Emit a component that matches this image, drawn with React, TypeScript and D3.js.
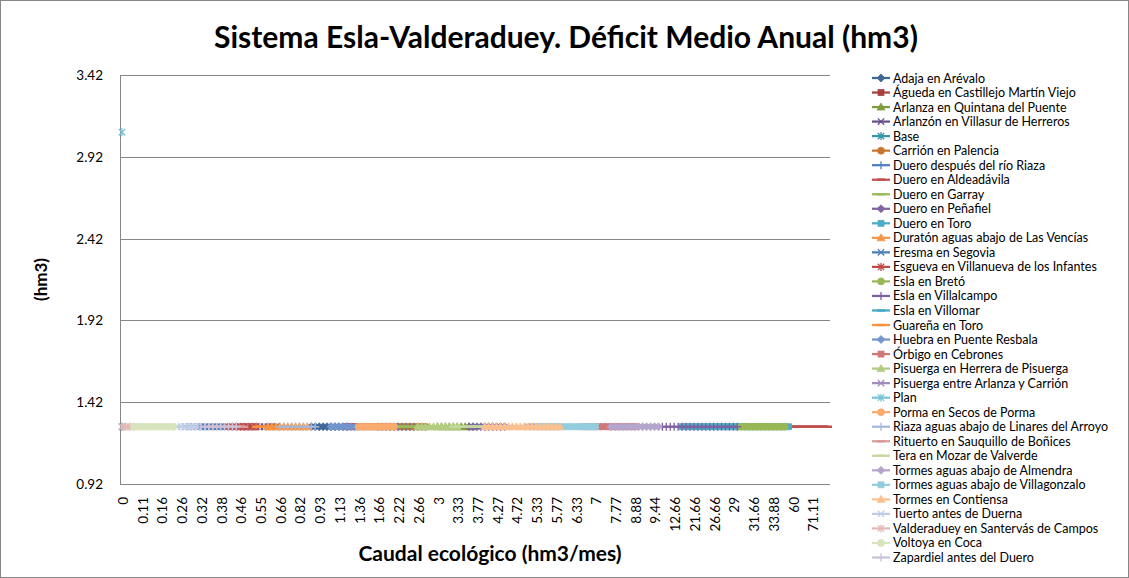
import React from 'react';
import * as d3 from 'd3';

const categories = [
  "0","0.02","0.04","0.06","0.09",
  "0.11","0.12","0.13","0.14","0.15",
  "0.16","0.18","0.2","0.22","0.24",
  "0.26","0.27","0.28","0.3","0.31",
  "0.32","0.33","0.34","0.36","0.37",
  "0.38","0.4","0.42","0.44","0.45",
  "0.46","0.48","0.5","0.52","0.53",
  "0.55","0.58","0.6","0.62","0.64",
  "0.66","0.7","0.74","0.77","0.8",
  "0.82","0.85","0.88","0.9","0.91",
  "0.93","0.96","1","1.06","1.1",
  "1.13","1.2","1.25","1.3","1.33",
  "1.36","1.4","1.46","1.55","1.6",
  "1.66","1.77","1.88","2","2.11",
  "2.22","2.33","2.44","2.5","2.55",
  "2.66","2.77","2.8","2.88","2.95",
  "3","3.1","3.15","3.2","3.25",
  "3.33","3.4","3.5","3.6","3.66",
  "3.77","3.88","4","4.1","4.2",
  "4.27","4.33","4.44","4.55","4.66",
  "4.72","4.8","5","5.1","5.2",
  "5.33","5.4","5.5","5.6","5.66",
  "5.77","5.88","6","6.1","6.22",
  "6.33","6.44","6.5","6.66","6.8",
  "7","7.1","7.33","7.5","7.66",
  "7.77","8","8.33","8.5","8.66",
  "8.88","9","9.1","9.33","9.4",
  "9.44","10","10.66","11","12",
  "12.66","13.33","14","16","18",
  "21.66","22","23","24","25",
  "26.66","27","27.5","28","28.5",
  "29","30","30.5","31","31.33",
  "31.66","32","32.5","33","33.33",
  "33.88","40","45","50","55",
  "60","62","64","66","68",
  "71.11","75","80","85","90"
];
const tickEvery = 5;
const yTicks = [0.92, 1.42, 1.92, 2.42, 2.92, 3.42];

const seriesNames = [
  "Adaja en Arévalo","Águeda en Castillejo Martín Viejo","Arlanza en Quintana del Puente",
  "Arlanzón en Villasur de Herreros","Base","Carrión en Palencia","Duero después del río Riaza",
  "Duero en Aldeadávila","Duero en Garray","Duero en Peñafiel","Duero en Toro",
  "Duratón aguas abajo de Las Vencías","Eresma en Segovia","Esgueva en Villanueva de los Infantes",
  "Esla en Bretó","Esla en Villalcampo","Esla en Villomar","Guareña en Toro","Huebra en Puente Resbala",
  "Órbigo en Cebrones","Pisuerga en Herrera de Pisuerga","Pisuerga entre Arlanza y Carrión","Plan",
  "Porma en Secos de Porma","Riaza aguas abajo de Linares del Arroyo","Rituerto en Sauquillo de Boñices",
  "Tera en Mozar de Valverde","Tormes aguas abajo de Almendra","Tormes aguas abajo de Villagonzalo",
  "Tormes en Contiensa","Tuerto antes de Duerna","Valderaduey en Santervás de Campos","Voltoya en Coca",
  "Zapardiel antes del Duero"
];
const seriesColors = [
  "#3F6797","#A5413E","#7E9D3F","#65518C","#3794AD","#C9752F","#4F81BD",
  "#C0504D","#9BBB59","#8064A2","#4BACC6","#F79646","#4A7DBA","#BE4B48",
  "#98B855","#7D60A0","#46AAC5","#F69240","#7395CD","#D07876","#B3CC82",
  "#A08DBD","#79C4D8","#F9AB6E","#A5B8DC","#D99B99","#C4D79E","#B3A5CB",
  "#93CDDD","#FAC090","#C0CDE6","#E6B9B8","#D7E4BD","#CCC1DA"
];
const markerCycle = ["diamond","square","triangle","x","star","circle","plus","dash","dash"];
const seriesStart = [
  "0.9","1.25","3","0.46","0","2","1.66",
  "55","2.22","3.6","14","0.6","0.27","0.42",
  "30.5","10.66","4.33","0.53","1.06","6.5","2.66",
  "5.1","0","1.36","0.66","0.34","3.25","7.66",
  "5.4","4","0.24","0","0.06","0.32"
];
const seriesValues = [
  [1.27,1.27,1.27,1.27,1.27,1.27,1.27,1.27,1.27,1.27],
  [1.27,1.27,1.27,1.27,1.27,1.27,1.27,1.27,1.27,1.27,1.27],
  [1.27,1.27,1.27,1.27,1.27,1.27,1.27,1.27,1.27,1.27],
  [1.27,1.27,1.27,1.27,1.27,1.27,1.27,1.27,1.27,1.27],
  [1.27],
  [1.27,1.27,1.27,1.27,1.27,1.27,1.27,1.27,1.27,1.27],
  [1.27,1.27,1.27,1.27,1.27,1.27,1.27,1.27,1.27,1.27],
  [1.27,1.27,1.27,1.27,1.27,1.27,1.27,1.27,1.27,1.27,1.27],
  [1.27,1.27,1.27,1.27,1.27,1.27,1.27,1.27,1.27,1.27],
  [1.27,1.27,1.27,1.27,1.27,1.27,1.27,1.27,1.27,1.27],
  [1.27,1.27,1.27,1.27,1.27,1.27,1.27,1.27,1.27,1.27,1.27,1.27,1.27,1.27,1.27,1.27,1.27,1.27,1.27,1.27,1.27,1.27,1.27,1.27,1.27,1.27,1.27,1.27],
  [1.27,1.27,1.27,1.27,1.27,1.27,1.27,1.27,1.27,1.27,1.27],
  [1.27,1.27,1.27,1.27,1.27,1.27,1.27,1.27,1.27,1.27,1.27],
  [1.27,1.27,1.27,1.27,1.27,1.27,1.27,1.27],
  [1.27,1.27,1.27,1.27,1.27,1.27,1.27,1.27,1.27,1.27,1.27,1.27],
  [1.27,1.27,1.27,1.27,1.27,1.27,1.27,1.27,1.27,1.27,1.27,1.27,1.27,1.27,1.27,1.27,1.27,1.27,1.27,1.27],
  [1.27,1.27,1.27,1.27,1.27,1.27,1.27,1.27,1.27,1.27],
  [1.27,1.27,1.27,1.27,1.27,1.27,1.27,1.27,1.27],
  [1.27,1.27,1.27,1.27,1.27,1.27,1.27],
  [1.27,1.27,1.27,1.27,1.27,1.27,1.27,1.27,1.27,1.27,1.27,1.27,1.27,1.27],
  [1.27,1.27,1.27,1.27,1.27,1.27,1.27,1.27,1.27,1.27,1.27],
  [1.27,1.27,1.27,1.27,1.27,1.27,1.27,1.27],
  [3.07],
  [1.27,1.27,1.27,1.27,1.27,1.27,1.27,1.27,1.27,1.27],
  [1.27,1.27,1.27,1.27,1.27,1.27,1.27,1.27,1.27,1.27],
  [1.27,1.27,1.27,1.27,1.27,1.27,1.27,1.27,1.27,1.27],
  [1.27,1.27,1.27,1.27,1.27,1.27,1.27,1.27,1.27,1.27],
  [1.27,1.27,1.27,1.27,1.27,1.27,1.27,1.27,1.27,1.27,1.27,1.27,1.27],
  [1.27,1.27,1.27,1.27,1.27,1.27,1.27,1.27,1.27,1.27,1.27,1.27,1.27,1.27,1.27],
  [1.27,1.27,1.27,1.27,1.27,1.27,1.27,1.27,1.27,1.27,1.27,1.27,1.27,1.27,1.27,1.27,1.27,1.27,1.27,1.27],
  [1.27,1.27,1.27,1.27,1.27,1.27],
  [1.27,1.27,1.27,1.27],
  [1.27,1.27,1.27,1.27,1.27,1.27,1.27,1.27,1.27,1.27,1.27],
  [1.27,1.27,1.27,1.27,1.27,1.27,1.27,1.27,1.27,1.27]
];

const W = 1129, H = 578;
const M = { left: 120, right: 830, top: 75, bottom: 484 };
const FONT = "Lato, 'Open Sans', sans-serif";
const GRID = "#868686";

function Marker({ shape, x, y, color }: { shape: string; x: number; y: number; color: string }) {
  switch (shape) {
    case "diamond":
      return <path d={`M${x},${y - 4}L${x + 4},${y}L${x},${y + 4}L${x - 4},${y}Z`} fill={color} stroke={color} strokeWidth={0.75} />;
    case "square":
      return <rect x={x - 3} y={y - 3} width={6} height={6} fill={color} stroke={color} strokeWidth={0.75} />;
    case "triangle":
      return <path d={`M${x},${y - 4}L${x + 4},${y + 3}L${x - 4},${y + 3}Z`} fill={color} stroke={color} strokeWidth={0.75} />;
    case "x":
      return <path d={`M${x - 3.2},${y - 3.2}L${x + 3.2},${y + 3.2}M${x + 3.2},${y - 3.2}L${x - 3.2},${y + 3.2}`} stroke={color} strokeWidth={1.3} fill="none" />;
    case "star":
      return <path d={`M${x - 3.2},${y - 3.2}L${x + 3.2},${y + 3.2}M${x + 3.2},${y - 3.2}L${x - 3.2},${y + 3.2}M${x},${y - 4}L${x},${y + 4}`} stroke={color} strokeWidth={1.3} fill="none" />;
    case "circle":
      return <circle cx={x} cy={y} r={3.5} fill={color} stroke={color} strokeWidth={0.75} />;
    case "plus":
      return <path d={`M${x - 4},${y}L${x + 4},${y}M${x},${y - 4}L${x},${y + 4}`} stroke={color} strokeWidth={1.3} fill="none" />;
    default:
      return <path d={`M${x - 4},${y}L${x + 4},${y}`} stroke={color} strokeWidth={2.5} fill="none" />;
  }
}

export default function App() {
  const x = d3.scaleBand<string>().domain(categories).range([M.left, M.right]).paddingInner(0).paddingOuter(0);
  const xc = (c: string) => (x(c) as number) + x.bandwidth() / 2;
  const y = d3.scaleLinear().domain([0.92, 3.42]).range([M.bottom, M.top]);
  const line = d3.line<[number, number]>().x(d => d[0]).y(d => d[1]);

  const series = seriesNames.map((name, i) => {
    const s = categories.indexOf(seriesStart[i]);
    const pts: [number, number][] = seriesValues[i].map((v, k) => [xc(categories[s + k]), y(v)]);
    return { name, color: seriesColors[i], shape: markerCycle[i % markerCycle.length], pts };
  });

  const legendX = 872, legendY0 = 78, legendStep = 14.53;

  return (
    <svg width={W} height={H} style={{ position: 'absolute', left: 0, top: 0, background: '#fff' }} fontFamily={FONT}>
      <rect x={0.5} y={0.5} width={W - 1} height={H - 1} fill="#fff" stroke={GRID} strokeWidth={1} />
      <text x={566} y={48} textAnchor="middle" fontSize={30} fontWeight="bold" fill="#000">
        Sistema Esla-Valderaduey. Déficit Medio Anual (hm3)
      </text>
      {yTicks.map(t => (
        <g key={t}>
          {t !== 0.92 && <line x1={M.left} x2={M.right} y1={Math.round(y(t)) + 0.5} y2={Math.round(y(t)) + 0.5} stroke={GRID} strokeWidth={1} />}
          <text x={103} y={y(t)} textAnchor="end" dominantBaseline="central" fontSize={13.5} fill="#000">{t.toFixed(2)}</text>
        </g>
      ))}
      <line x1={M.left + 0.5} x2={M.left + 0.5} y1={M.top} y2={M.bottom} stroke={GRID} strokeWidth={1} />
      <line x1={M.left} x2={M.right} y1={M.bottom + 0.5} y2={M.bottom + 0.5} stroke={GRID} strokeWidth={1} />
      {categories.map((c, i) => i % tickEvery === 0 ? (
        <text key={c} transform={`translate(${xc(c) + 1},${497}) rotate(-90)`} textAnchor="end" dominantBaseline="central" fontSize={13.5} fill="#000">{c}</text>
      ) : null)}
      <text transform={`translate(40,${(M.top + M.bottom) / 2}) rotate(-90)`} textAnchor="middle" dominantBaseline="central" fontSize={17} fontWeight="bold">(hm3)</text>
      <text x={490} y={561} textAnchor="middle" fontSize={21} fontWeight="bold">Caudal ecológico (hm3/mes)</text>
      {series.map(s => (
        <g key={s.name}>
          {s.pts.length > 1 && <path d={line(s.pts) as string} fill="none" stroke={s.color} strokeWidth={2.25} />}
          {s.pts.map((p, k) => <Marker key={k} shape={s.shape} x={p[0]} y={p[1]} color={s.color} />)}
        </g>
      ))}
      {series.map((s, i) => {
        const ly = legendY0 + i * legendStep;
        return (
          <g key={'lg' + s.name}>
            <line x1={legendX} x2={legendX + 18} y1={ly} y2={ly} stroke={s.color} strokeWidth={2.25} />
            <Marker shape={s.shape} x={legendX + 9} y={ly} color={s.color} />
            <text x={legendX + 21} y={ly} dominantBaseline="central" fontSize={12.5} fill="#000">{s.name}</text>
          </g>
        );
      })}
    </svg>
  );
}
